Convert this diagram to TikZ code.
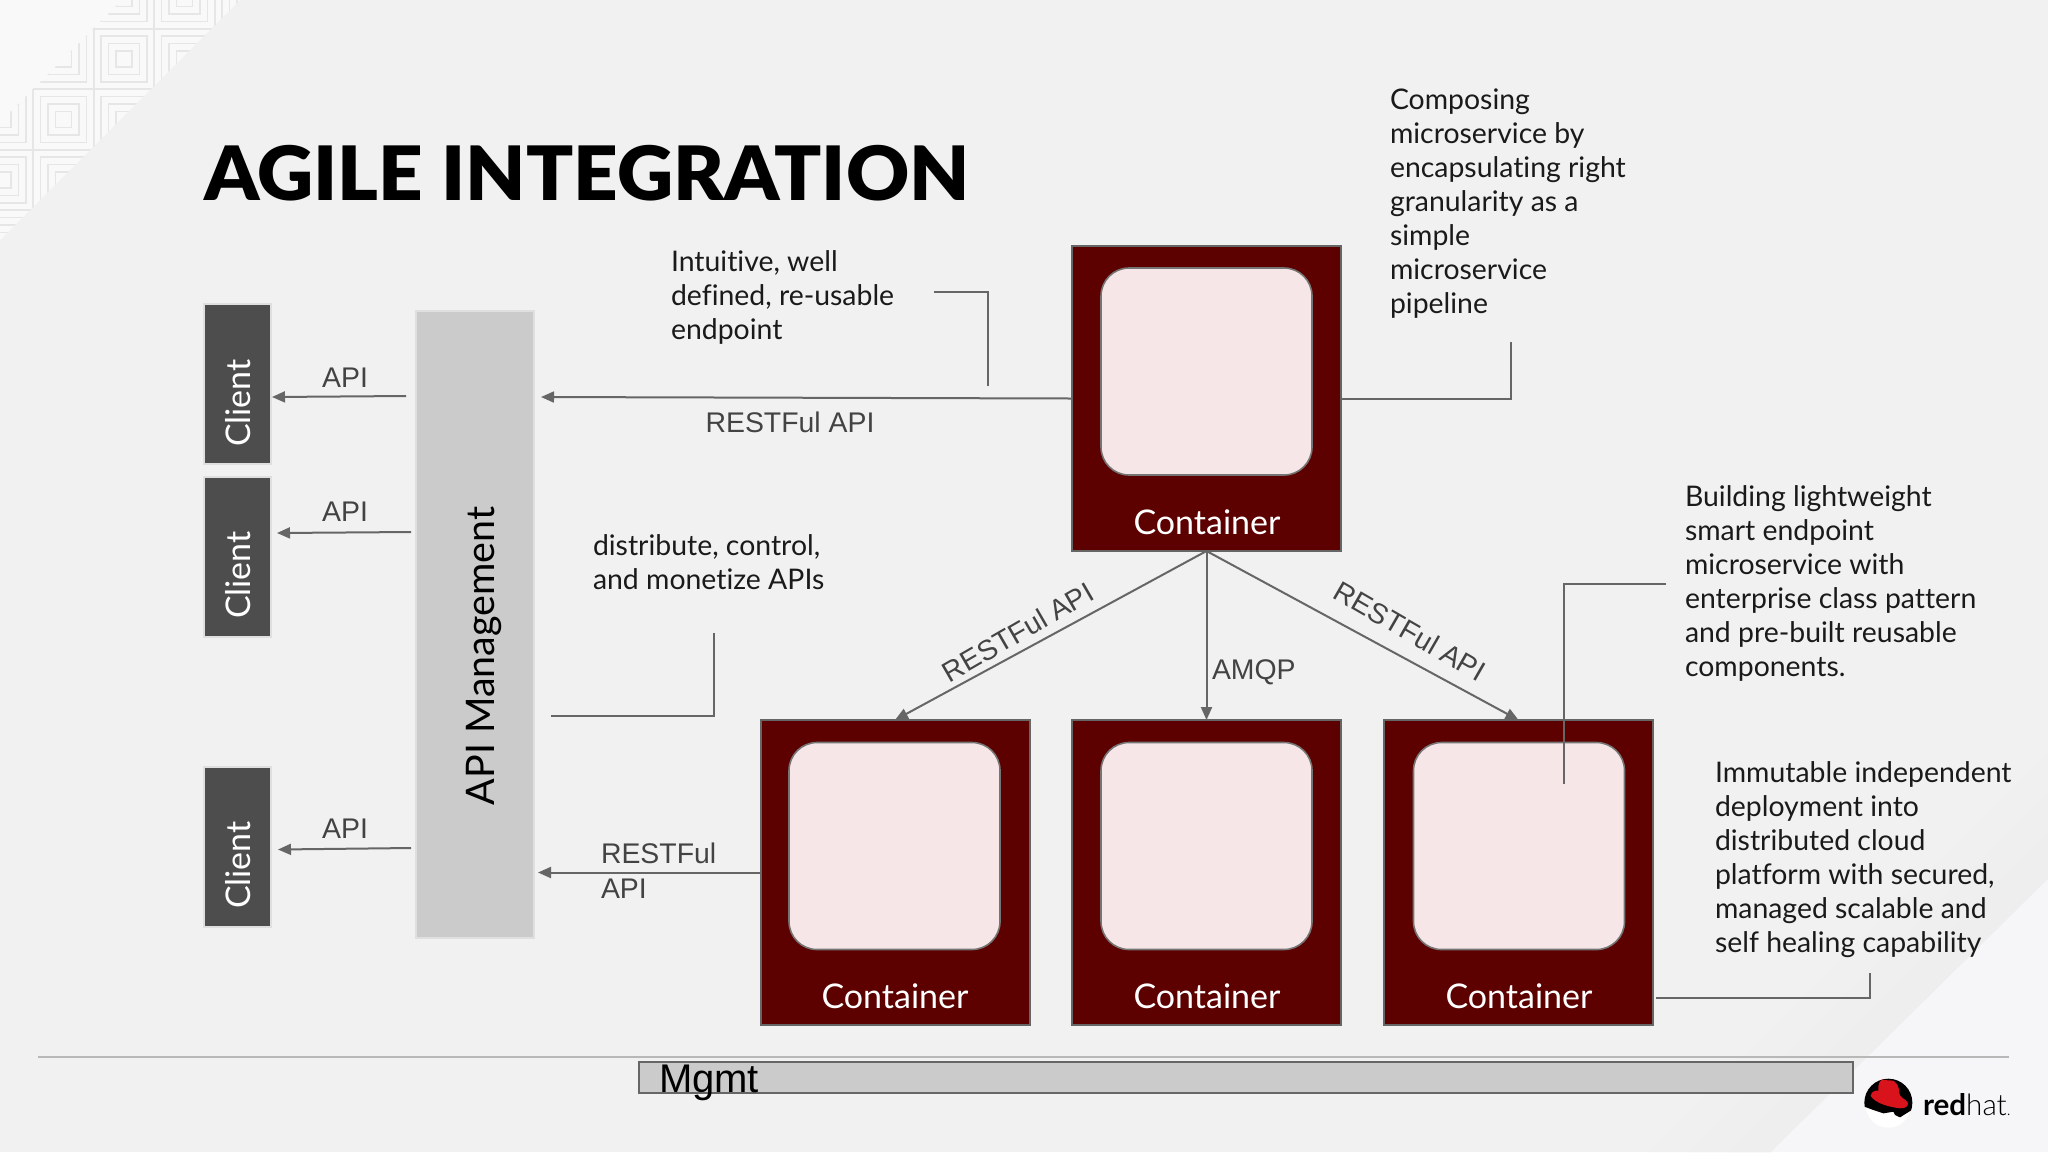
\documentclass[tikz,border=0pt]{standalone}
\usepackage{fontspec}
\setmainfont[Ligatures=NoCommon]{Lato}
\newfontfamily\arialf{Liberation Sans}
\newfontfamily\blackf{Lato Black}
\newfontfamily\lightf{Lato Light}
\usetikzlibrary{arrows.meta,positioning}
\definecolor{bgc}{HTML}{F1F1F1}
\definecolor{bandone}{HTML}{F0F0F1}
\definecolor{bandtwo}{HTML}{EFEFF0}
\definecolor{bandthree}{HTML}{EEEEEF}
\definecolor{lightc}{HTML}{F6F6F8}
\definecolor{patc}{HTML}{E6E6E6}
\definecolor{tlc}{HTML}{F9F9F9}
\definecolor{linec}{HTML}{666666}
\definecolor{maroonc}{HTML}{5C0000}
\definecolor{pinkc}{HTML}{F7E6E8}
\definecolor{clientc}{HTML}{4D4D4D}
\definecolor{mgc}{HTML}{CBCBCB}
\definecolor{halo}{HTML}{DFDFDF}
\definecolor{labelc}{HTML}{434343}
\definecolor{hatred}{HTML}{D9131C}
\definecolor{notec}{HTML}{1A1A1A}
\newcommand{\fsz}[2]{\fontsize{#1}{#2}\selectfont}
\tikzset{
  every node/.style={inner sep=0pt,outer sep=0pt},
  conn/.style={draw=linec,line width=1pt},
  arrowc/.style={conn,-{Triangle[length=6.5pt,width=5.5pt]}},
  container/.style={draw=linec,line width=1pt,fill=maroonc,minimum width=134.5pt,minimum height=152.5pt},
  innerbox/.style={draw=linec!90,line width=0.8pt,fill=pinkc,rounded corners=14pt,minimum width=105.5pt,minimum height=103.5pt},
  ctext/.style={text=white,font=\fsz{17}{20}},
  client/.style={draw=halo,line width=1pt,fill=clientc,minimum width=33.5pt,minimum height=80pt},
  cltext/.style={text=white,font=\fsz{17}{20},rotate=90},
  note/.style={anchor=north west,align=left,text=notec,font=\fsz{14.2}{17}},
  edgelabel/.style={text=labelc,font=\arialf\fsz{14.2}{17}},
  patline/.style={draw=patc,line width=0.8pt}
}
\begin{document}
\begin{tikzpicture}[x=0.5pt,y=-0.5pt]
\useasboundingbox (0,0) rectangle (2048,1152);
% background
\fill[bgc] (0,0) rectangle (2048,1152);
\fill[bandone] (2048,752) -- (2048,879) -- (1771,1152) -- (1648,1152) -- cycle;
\fill[bandtwo] (2048,792) -- (2048,879) -- (1771,1152) -- (1688,1152) -- cycle;
\fill[bandthree] (2048,832) -- (2048,879) -- (1771,1152) -- (1728,1152) -- cycle;
\fill[lightc] (2048,879) -- (2048,1152) -- (1771,1152) -- cycle;
\fill[tlc] (0,0) -- (240,0) -- (0,240) -- cycle;
\begin{scope}
\clip (122,0) -- (240,0) -- (0,240) -- (0,122) -- cycle;
\foreach \cx in {-57.5,3,63.5,124,184.5,245}{
  \foreach \cy in {-1.5,59,119.5,180,240.5}{
    \draw[patline] (\cx-30.25,\cy-30.25) rectangle (\cx+30.25,\cy+30.25);
    \draw[patline] (\cx-23,\cy-23) rectangle (\cx+23,\cy+23);
    \draw[patline] (\cx-15.5,\cy-15.5) rectangle (\cx+15.5,\cy+15.5);
    \draw[patline] (\cx-8,\cy-8) rectangle (\cx+8,\cy+8);
  }
}
\end{scope}
% title
\node[anchor=base west,text=black,font=\blackf\fsz{37.5}{40},xscale=1.038] (title) at (204,200) {AGILE INTEGRATION};
% rule and mgmt
\coordinate (ruleL) at (38,1057);
\coordinate (ruleR) at (2009,1057);
\draw[draw=black!28,line width=0.8pt] (ruleL) -- (ruleR);
\node[draw=linec,line width=1pt,fill=mgc,minimum width=607pt,minimum height=15.5pt] (mgmtbar) at (1246,1077.5) {};
\node[anchor=base west,text=black,font=\arialf\fsz{20}{22}] (mgmt) at (659,1092) {Mgmt};
% clients
\node[client] (c1) at (237.5,383.5) {};
\node[client] (c2) at (237.5,556.5) {};
\node[client] (c3) at (237.5,846.5) {};
\node[cltext] (c1t) at (238,403) {Client};
\node[cltext] (c2t) at (238,575) {Client};
\node[cltext] (c3t) at (238,865) {Client};
% api mgmt
\node[draw=halo,line width=1pt,fill=mgc,minimum width=59pt,minimum height=313.5pt] (mg) at (475,624.5) {};
\node[rotate=90,text=black,font=\fsz{19.7}{22}] (mgt) at (484,656) {API Management};
% containers
\node[container] (top) at (1206.5,398.5) {};
\node[container] (cl) at (895,872.5) {};
\node[container] (cm) at (1206.5,872.5) {};
\node[container] (cr) at (1518.5,872.5) {};
\node[innerbox] (topi) at (1206.5,371.5) {};
\node[innerbox] (cli) at (894.5,846) {};
\node[innerbox] (cmi) at (1206.5,846) {};
\node[innerbox] (cri) at (1519,846) {};
\node[ctext] (topt) at (1207,522) {Container};
\node[ctext] (clt) at (895,996) {Container};
\node[ctext] (cmt) at (1207,996) {Container};
\node[ctext] (crt) at (1519,996) {Container};
% api arrows
\coordinate (a1s) at (406,396); \coordinate (a1e) at (272,397);
\coordinate (a2s) at (411,532); \coordinate (a2e) at (277,533);
\coordinate (a3s) at (411,848); \coordinate (a3e) at (278,849.5);
\draw[arrowc] (a1s) -- (a1e);
\draw[arrowc] (a2s) -- (a2e);
\draw[arrowc] (a3s) -- (a3e);
\node[edgelabel] (l1) at (345,378) {API};
\node[edgelabel] (l2) at (345,512) {API};
\node[edgelabel] (l3) at (345,829) {API};
% restful
\coordinate (r1e) at (541,397);
\coordinate (r2e) at (538,872.5);
\draw[arrowc] (top.west) -- (r1e);
\draw[arrowc] (cl.west) -- (r2e);
\draw[arrowc] (top.south) -- (cl.north);
\draw[arrowc] (top.south) -- (cm.north);
\draw[arrowc] (top.south) -- (cr.north);
\node[edgelabel] (l4) at (790,422) {RESTFul API};
\node[edgelabel,anchor=base west] (l5) at (601,863) {RESTFul};
\node[edgelabel,anchor=base west] (l6) at (601,898) {API};
\node[edgelabel,anchor=base west] (l7) at (1212,679) {AMQP};
\node[edgelabel,rotate=30] (l8) at (1018,632) {RESTFul API};
\node[edgelabel,rotate=-30] (l9) at (1410,631) {RESTFul API};
% notes
\node[note] (n1) at (671,251) {Intuitive, well\\defined, re-usable\\endpoint};
\node[note] (n2) at (1390,89) {Composing\\microservice by\\encapsulating right\\granularity as a\\simple\\microservice\\pipeline};
\node[note] (n3) at (1685,486) {Building lightweight\\smart endpoint\\microservice with\\enterprise class pattern\\and pre-built reusable\\components.};
\node[note] (n4) at (1715,762) {Immutable independent\\deployment into\\distributed cloud\\platform with secured,\\managed scalable and\\self healing capability};
\node[note] (n5) at (593,535) {distribute, control,\\and monetize APIs};
% callouts
\coordinate (k1a) at (934,292); \coordinate (k1b) at (988,292); \coordinate (k1c) at (988,386);
\draw[conn] (k1a) -- (k1b) -- (k1c);
\coordinate (k2b) at (1511,398.5); \coordinate (k2c) at (1511,342);
\draw[conn] (top.east) -- (k2b) -- (k2c);
\coordinate (k3a) at (1666,584); \coordinate (k3b) at (1564,584); \coordinate (k3c) at (1564,784);
\draw[conn] (k3a) -- (k3b) -- (k3c);
\coordinate (k4a) at (551,716); \coordinate (k4b) at (714,716); \coordinate (k4c) at (714,633);
\draw[conn] (k4a) -- (k4b) -- (k4c);
\coordinate (k5a) at (1656,998); \coordinate (k5b) at (1870,998); \coordinate (k5c) at (1870,973);
\draw[conn] (k5a) -- (k5b) -- (k5c);
% logo
\begin{scope}[shift={(1850,1060)},x=0.16667pt,y=-0.16667pt]
\fill[white] (115,135) circle (68);
\begin{scope}
\clip (30,40) -- (200,40) -- (200,160) -- (185,150) -- (150,172) -- (135,165) -- (130,155) -- (100,160) -- (70,150) -- (30,135) -- cycle;
\fill[black] (115,128) circle (72);
\end{scope}
\fill[hatred] (62,108) .. controls (75,128) and (110,140) .. (150,145) .. controls (170,145) and (178,135) .. (172,125) .. controls (160,115) and (150,110) .. (148,100) .. controls (148,85) and (143,70) .. (130,62) .. controls (115,60) and (105,62) .. (98,58) .. controls (88,62) and (83,75) .. (85,92) .. controls (75,90) and (64,95) .. (62,108) -- cycle;
\end{scope}
\node[anchor=base west,text=black,font=\fsz{14.8}{17}] (logo) at (1923,1115) {{\bfseries red}{\lightf hat}{\fsz{8}{9}\lightf .}};
\end{tikzpicture}
\end{document}
